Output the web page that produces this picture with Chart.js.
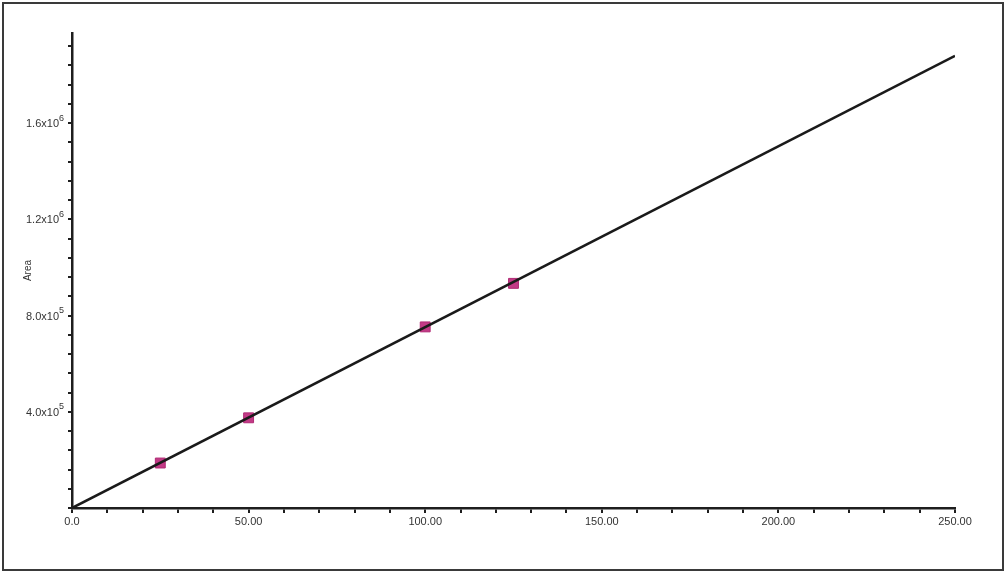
<!DOCTYPE html>
<html>
<head>
<meta charset="utf-8">
<script src="https://cdn.jsdelivr.net/npm/chart.js@4.4.1/dist/chart.umd.min.js"></script>
<style>
    html, body { margin: 0; padding: 0; background: #fff; }
    #wrap { position: absolute; left: 0; top: 0; width: 1006px; height: 573px; }
    #frame { position: absolute; left: 2px; top: 2px; width: 998px; height: 565px; border: 2px solid #3a3a3a; pointer-events: none; }
</style>
</head>
<body>
<div id="wrap"><canvas id="chartCal"></canvas></div>
<div id="frame"></div>
<script>
// calibration standards (concentration vs peak area)
var concs = [25, 50, 100, 125];
var areas = [187000, 375000, 753000, 934000];
// fitted line end points
var fitX = [0, 250];
var fitY = [0, 1880000];
// labelled ticks (mantissa x 10^exp)
var yTickVals = [400000, 800000, 1200000, 1600000];
var yTickBase = ['4.0x10', '8.0x10', '1.2x10', '1.6x10'];
var yTickExp = ['5', '5', '6', '6'];
var yMinorStep = 80000;
var xTickVals = [0, 50, 100, 150, 200, 250];
var xTickText = ['0.0', '50.00', '100.00', '150.00', '200.00', '250.00'];

function tickText(v, vals, texts) {
    for (var i = 0; i < vals.length; i++) {
        if (Math.abs(v - vals[i]) < 1e-6 * (Math.abs(vals[i]) + 1)) return texts[i];
    }
    return '';
}

// y labels with a real superscript exponent
var supLabels = {
    id: 'supLabels',
    afterDraw: function (chart) {
        var sc = chart.scales.y, c = chart.ctx;
        var right = sc.right - 4 - 4;
        c.save();
        c.fillStyle = '#333';
        c.textBaseline = 'middle';
        for (var i = 0; i < yTickVals.length; i++) {
            var y = sc.getPixelForValue(yTickVals[i]);
            c.font = '9px "Liberation Sans"';
            var ew = c.measureText(yTickExp[i]).width;
            c.textAlign = 'left';
            c.fillText(yTickExp[i], right - ew, y - 5);
            c.font = '11px "Liberation Sans"';
            c.textAlign = 'right';
            c.fillText(yTickBase[i], right - ew, y + 1);
        }
        c.restore();
    }
};

function LoadChart() {
    var pts = [], fit = [];
    for (var i = 0; i < concs.length; i++) {
        pts.push({ x: concs[i], y: areas[i] });
    }
    for (var j = 0; j < fitX.length; j++) {
        fit.push({ x: fitX[j], y: fitY[j] });
    }
    var axisColor = '#1e1e1e';
    var ctx = document.getElementById('chartCal');
    new Chart(ctx, {
        type: 'scatter',
        data: {
            datasets: [{
                label: 'fit',
                type: 'line',
                data: fit,
                borderColor: '#1a1a1a',
                borderWidth: 2.6,
                pointRadius: 0,
                fill: false,
                order: 0
            }, {
                label: 'Area',
                data: pts,
                pointStyle: 'rect',
                pointRadius: 7,
                backgroundColor: '#c23a86',
                borderColor: '#b02a74',
                borderWidth: 1,
                order: 1
            }]
        },
        plugins: [supLabels],
        options: {
            responsive: true,
            maintainAspectRatio: false,
            animation: false,
            layout: { padding: { left: 0, top: 33, right: 51, bottom: 0 } },
            plugins: { legend: { display: false }, tooltip: { enabled: false } },
            scales: {
                x: {
                    type: 'linear',
                    min: 0,
                    max: 250,
                    border: { display: true, color: axisColor, width: 2.5 },
                    grid: { drawOnChartArea: false, drawTicks: true, tickLength: 5, color: axisColor, lineWidth: 2 },
                    ticks: {
                        stepSize: 10,
                        autoSkip: false,
                        maxRotation: 0,
                        padding: 2,
                        color: '#333',
                        font: { family: 'Liberation Sans', size: 11 },
                        callback: function (v) { return tickText(v, xTickVals, xTickText); }
                    },
                    afterFit: function (s) { s.height = 65; }
                },
                y: {
                    type: 'linear',
                    min: 0,
                    max: 1975000,
                    border: { display: true, color: axisColor, width: 2.5 },
                    grid: { drawOnChartArea: false, drawTicks: true, tickLength: 4, color: axisColor, lineWidth: 2 },
                    title: { display: true, text: 'Area', color: '#333', font: { family: 'Liberation Sans', size: 10 }, padding: { top: 22, bottom: 0 } },
                    ticks: {
                        autoSkip: false,
                        callback: function () { return ''; }
                    },
                    afterBuildTicks: function (s) {
                        var t = [];
                        for (var k = 0; k * yMinorStep <= s.max; k++) t.push({ value: k * yMinorStep });
                        s.ticks = t;
                    },
                    afterFit: function (s) { s.width = 72; }
                }
            }
        }
    });
}
LoadChart();
</script>
</body>
</html>
